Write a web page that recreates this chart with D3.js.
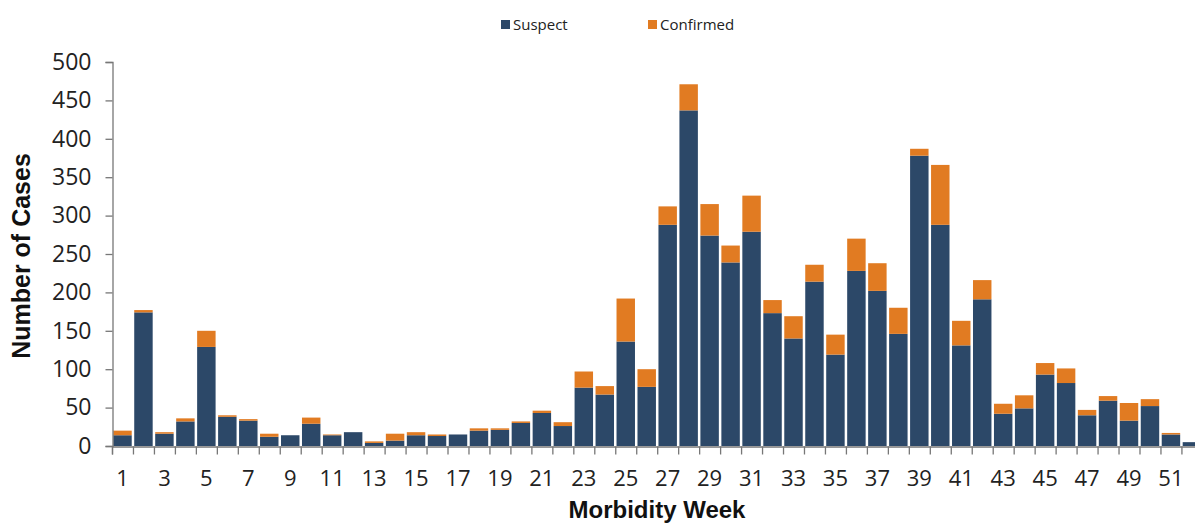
<!DOCTYPE html>
<html>
<head>
<meta charset="utf-8">
<script src="https://cdn.jsdelivr.net/npm/d3@7"></script>
<style>
  html, body { margin: 0; padding: 0; background: #fff; overflow: hidden; }
  svg { display: block; }
  .tk text { font-family: "Open Sans", sans-serif; fill: #222; }
  .ttl { font-family: "Liberation Sans", Arial, sans-serif; font-weight: bold; fill: #111; }
  .lg { font-family: "Open Sans", sans-serif; font-size: 15px; fill: #222; }
</style>
</head>
<body>
<svg id="chart" width="1195" height="526"></svg>
<script>
const weeks = [1, 2, 3, 4, 5, 6, 7, 8, 9, 10, 11, 12, 13, 14, 15, 16, 17, 18, 19, 20, 21, 22, 23, 24, 25, 26,
  27, 28, 29, 30, 31, 32, 33, 34, 35, 36, 37, 38, 39, 40, 41, 42, 43, 44, 45, 46, 47, 48, 49, 50, 51, 52];
const suspect = [14, 174, 16, 32, 129, 38, 33, 12, 14, 29, 14, 18, 4, 7, 14, 13, 15, 20, 21, 30, 43, 26, 76, 67, 136, 77,
  288, 437, 274, 239, 279, 173, 140, 214, 119, 228, 202, 146, 378, 288, 131, 191, 42, 49, 93, 82, 40, 59, 33, 52, 15, 5];
const confirmed = [6, 3, 2, 4, 21, 2, 2, 4, 0, 8, 1, 0, 2, 9, 4, 2, 0, 3, 2, 2, 3, 5, 21, 11, 56, 23,
  24, 34, 41, 22, 47, 17, 29, 22, 26, 42, 36, 34, 9, 78, 32, 25, 13, 17, 15, 19, 7, 6, 23, 9, 2, 0];
const yTicks = [0, 50, 100, 150, 200, 250, 300, 350, 400, 450, 500];
const seriesNames = ['Suspect', 'Confirmed'];
const colors = { Suspect: '#2c4868', Confirmed: '#e17b22' };

const svg = d3.select('#chart');
const x0 = 112, x1 = 1202.4, yBase = 446, yTop = 62;

const x = d3.scaleBand().domain(weeks).range([x0, x1]).paddingInner(0.12).paddingOuter(0.06);
const y = d3.scaleLinear().domain([0, 500]).range([yBase, yTop]);

const rows = weeks.map((w, i) => ({ week: w, Suspect: suspect[i], Confirmed: confirmed[i] }));
const stacked = d3.stack().keys(seriesNames)(rows);

// bars
svg.append('g').selectAll('g').data(stacked).join('g')
  .attr('fill', (s) => colors[s.key])
  .selectAll('rect').data((s) => s).join('rect')
  .attr('x', (d) => x(d.data.week))
  .attr('width', x.bandwidth())
  .attr('y', (d) => y(d[1]))
  .attr('height', (d) => y(d[0]) - y(d[1]));

// y axis
const yAx = svg.append('g').attr('class', 'tk')
  .attr('transform', `translate(${x0 + 0.5},0)`)
  .call(d3.axisLeft(y).tickValues(yTicks).tickSize(7).tickPadding(14));
yAx.selectAll('text').attr('font-size', 23);
yAx.selectAll('line, path').attr('stroke', '#777').attr('stroke-width', 1.3);

// x axis: boundary ticks
const xb = d3.scaleLinear().domain([0, weeks.length]).range([x0, x0 + x.step() * weeks.length]);
const xAxB = svg.append('g').attr('class', 'tk')
  .attr('transform', `translate(0,${yBase + 0.5})`)
  .call(d3.axisBottom(xb).tickValues(d3.range(0, weeks.length + 1)).tickSize(8).tickFormat(''));
xAxB.selectAll('line, path').attr('stroke', '#777').attr('stroke-width', 1.3);

// x axis labels (odd weeks)
const xAxL = svg.append('g').attr('class', 'tk')
  .attr('transform', `translate(0,${yBase})`)
  .call(d3.axisBottom(x).tickValues(weeks.filter((w) => w % 2 === 1)).tickSize(0).tickPadding(24));
xAxL.select('.domain').remove();
xAxL.selectAll('text').attr('font-size', 22);

// titles
svg.append('text').attr('class', 'ttl')
  .attr('transform', 'translate(30,256) rotate(-90)')
  .attr('text-anchor', 'middle').attr('font-size', 25)
  .text('Number of Cases');
svg.append('text').attr('class', 'ttl')
  .attr('x', 657).attr('y', 518)
  .attr('text-anchor', 'middle').attr('font-size', 24)
  .text('Morbidity Week');

// legend
const lgX = [501, 648];
const lg = svg.append('g').selectAll('g').data(seriesNames).join('g')
  .attr('transform', (d, i) => `translate(${lgX[i]},20)`);
lg.append('rect').attr('width', 9).attr('height', 9).attr('fill', (d) => colors[d]);
lg.append('text').attr('class', 'lg').attr('x', 12).attr('y', 10).text((d) => d);
</script>
</body>
</html>
